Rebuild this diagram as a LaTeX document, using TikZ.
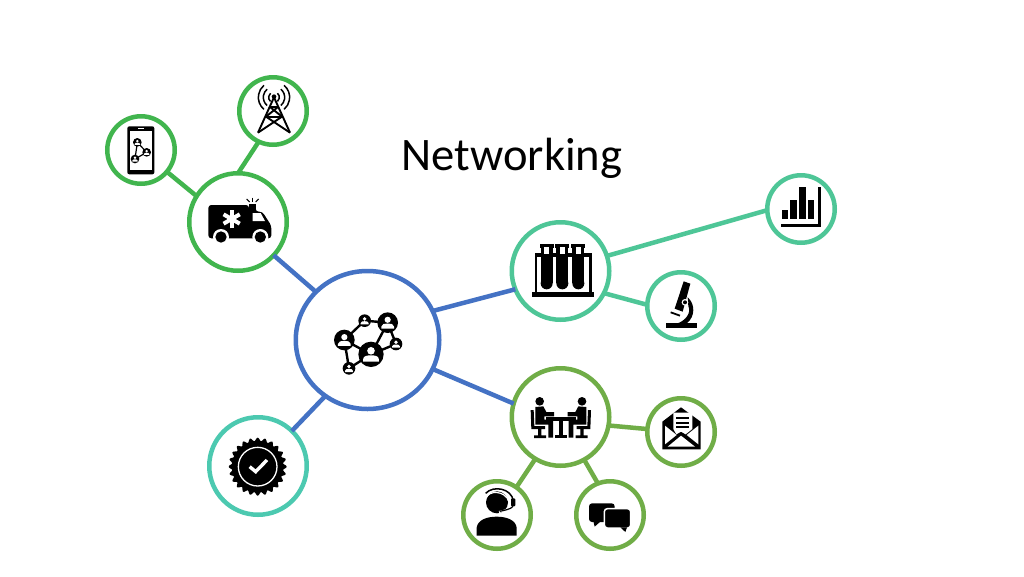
\documentclass[tikz,border=0pt]{standalone}
\usepackage{fontspec}
\setmainfont{Carlito}
\usetikzlibrary{shapes.geometric}
\definecolor{gA}{HTML}{41B54E}
\definecolor{bA}{HTML}{4472C4}
\definecolor{tA}{HTML}{4EC697}
\definecolor{oA}{HTML}{70AD47}
\definecolor{cA}{HTML}{4CC9B0}
\tikzset{
  ring/.style={circle,draw=#1,line width=4.5pt,fill=white,inner sep=0pt,outer sep=0pt},
  big/.style={minimum size=97.5pt},
  small/.style={minimum size=67.5pt},
  link/.style={draw=#1,line width=4.5pt},
  zoomed/.style={x=0.33333pt,y=-0.33333pt},
}
\newcommand{\persona}[3]{%
  \begin{scope}[shift={(#1,#2)},scale=#3]
    \fill[black] (0,0) circle (1);
    \fill[white] (0,-.28) circle (.3);
    \fill[white] (-.62,.58) -- (-.62,.38) .. controls (-.6,.12) and (-.3,.08) .. (0,.08)
      .. controls (.3,.08) and (.6,.12) .. (.62,.38) -- (.62,.58) -- cycle;
  \end{scope}}
\newcommand{\seated}{%
  \fill (254,109) circle (13);
  \fill (241,126) -- (265,124) -- (274,141) -- (297,141) -- (297,154) -- (268,154) -- (268,164)
     -- (294,164) -- (294,218) -- (280,218) -- (280,179) -- (241,179) -- cycle;
  \fill (227,135) -- (236,135) -- (238,183) -- (270,183) -- (270,192) -- (259,192) -- (259,211)
     -- (273,211) -- (273,219) -- (237,219) -- (237,211) -- (249,211) -- (249,192) -- (229,192) -- cycle;
}
\begin{document}
\begin{tikzpicture}[x=1pt,y=-1pt]
\useasboundingbox (0,0) rectangle (1024,576);
\fill[white] (0,0) rectangle (1024,576);

\node[text=black,inner sep=0pt] (title) at (512,158) {\fontsize{46.6}{50}\selectfont Networking};

\node[ellipse,draw=bA,line width=4.5pt,fill=white,inner sep=0pt,outer sep=0pt,minimum width=143.5pt,minimum height=138pt] (hub) at (367.5,340) {};
\node[ring=gA,big] (amb) at (238,222) {};
\node[ring=gA,small] (phone) at (141,150) {};
\node[ring=gA,small] (tower) at (273,111) {};
\node[ring=tA,big] (tubes) at (560.5,271) {};
\node[ring=tA,small] (chart) at (801,209) {};
\node[ring=tA,small] (micro) at (681,306) {};
\node[ring=oA,big] (meet) at (560.5,417) {};
\node[ring=oA,small] (mail) at (681,432) {};
\node[ring=oA,small] (head) at (497,515) {};
\node[ring=oA,small] (chat) at (610,515) {};
\node[ring=cA,big] (badge) at (258,466) {};

\draw[link=gA] (amb.148) -- (phone.-40);
\draw[link=gA] (amb.90) -- (tower.245);
\draw[link=bA] (amb.-43) -- (hub.137);
\draw[link=bA] (hub.233) -- (badge.46);
\draw[link=bA] (hub.24) -- (tubes.202);
\draw[link=bA] (hub.-24) -- (meet.164);
\draw[link=tA] (tubes.18) -- (chart.182);
\draw[link=tA] (tubes.-27) -- (micro.178);
\draw[link=oA] (meet.-10) -- (mail.175);
\draw[link=oA] (meet.239) -- (head.55);
\draw[link=oA] (meet.-61) -- (chat.111);

% ---- ambulance, phone, tower
\begin{scope}[shift={(95,65)},zoomed]
  \fill[rounded corners=3pt] (340,420) -- (462,420) -- (462,432) -- (482,432) -- (482,416) -- (482,440) -- (502,440)
     -- (529,482) -- (529,520) -- (340,520) -- cycle;
  \fill (463,417) rectangle (482,435);
  \fill[white] (473,444) -- (497,444) -- (510,468) -- (473,468) -- cycle;
  \foreach \a in {0,60,120} {
    \draw[white,line width=4pt] ({410+28*cos(\a+90)},{462+28*sin(\a+90)}) -- ({410-28*cos(\a+90)},{462-28*sin(\a+90)});
  }
  \fill[white] (378,516) circle (24); \fill (378,516) circle (17);
  \fill[white] (496,516) circle (24); \fill (496,516) circle (17);
  \draw[line width=1pt] (472,398) -- (472,411);
  \draw[line width=1pt] (455,402) -- (464,411);
  \draw[line width=1pt] (491,402) -- (482,411);
  \fill[rounded corners=2pt] (97,184) rectangle (178,328);
  \fill[white] (105,197) rectangle (171,315);
  \fill[white] (130,189) rectangle (146,192);
  \draw[line width=1.2pt] (127,232) -- (155,262) -- (120,282) -- cycle;
  \persona{127}{232}{13}
  \persona{155}{262}{13}
  \persona{120}{282}{13}
  \begin{scope}[line width=1.9pt]
    \draw (537,97) -- (489,203);
    \draw (537,97) -- (585,203);
    \draw (525,126) -- (549,126);
    \draw (513,155) -- (561,155);
    \draw (525,126) -- (561,155);
    \draw (549,126) -- (513,155);
    \draw (513,155) -- (585,203);
    \draw (561,155) -- (489,203);
    \foreach \r in {16,32,47} {
      \draw[line width=1.5pt] ({537+\r*cos(-50)},{97+\r*sin(-50)}) arc[start angle=-50,end angle=50,radius=\r];
      \draw[line width=1.5pt] ({537+\r*cos(130)},{97+\r*sin(130)}) arc[start angle=130,end angle=230,radius=\r];
    }
  \end{scope}
  \fill (537,95) circle (7);
\end{scope}

% ---- network icon
\begin{scope}[shift={(290,265)},zoomed]
  \draw[line width=2.4pt] (163,225) -- (224,167) -- (293,173) -- (243,268) -- (318,237) -- (293,173);
  \draw[line width=2.4pt] (163,225) -- (243,268) -- (177,310) -- cycle;
  \persona{163}{225}{31}
  \persona{293}{173}{31}
  \persona{243}{268}{38}
  \persona{224}{167}{19}
  \persona{318}{237}{19}
  \persona{177}{310}{19}
\end{scope}

% ---- tubes, chart, microscope
\begin{scope}[shift={(505,170)},zoomed]
  \fill (80,367) rectangle (268,380);
  \fill (89,248) rectangle (97,367);
  \fill (252,248) rectangle (260,367);
  \fill (89,250) rectangle (260,262);
  \foreach \x in {125,172,220} {
    \fill (\x-21,222) rectangle (\x+21,233);
    \fill (\x-18,232) rectangle (\x+18,340);
    \fill (\x,340) circle (18);
    \fill[white] (\x-8,232) rectangle (\x+8,252);
  }
  \fill (830,120) rectangle (849,148);
  \fill (855,90) rectangle (875,148);
  \fill (882,52) rectangle (902,148);
  \fill (908,90) rectangle (927,148);
  \fill (938,52) rectangle (947,172);
  \fill (828,162) rectangle (947,172);
  \fill (482,460) rectangle (575,473);
  \fill (548,382) .. controls (570,400) and (572,440) .. (545,460) -- (518,460)
     .. controls (540,452) and (560,430) .. (550,408) -- cycle;
  \fill (536,334) -- (556,341) -- (533,425) -- (509,416) -- cycle;
  \fill[white] (540,397) circle (10);
  \fill (540,397) circle (6);
  \draw[line width=1.8pt] (497,427) -- (525,437);
\end{scope}

% ---- meeting, mail, headset, chat
\begin{scope}[shift={(455,365)},zoomed]
  \fill (273,156) rectangle (362,167);
  \fill (312,167) rectangle (323,212);
  \fill (299,210) rectangle (336,219);
  \seated
  \begin{scope}[shift={(635,0)},xscale=-1]
    \seated
  \end{scope}
  \fill (622,170) -- (678,127) -- (737,170) -- (737,253) -- (622,253) -- cycle;
  \fill[white] (655,143) -- (712,143) -- (712,192) -- (692,208) -- (678,200) -- (664,208) -- (655,192) -- cycle;
  \fill (663,157) rectangle (702,163);
  \fill (663,170) rectangle (702,176);
  \fill (663,183) rectangle (702,189);
  \fill[white] (630,182) -- (630,238) -- (665,210) -- cycle;
  \fill[white] (730,182) -- (730,238) -- (695,210) -- cycle;
  \fill[white] (638,245) -- (678,212) -- (720,245) -- cycle;
  \fill (65,512) -- (65,488) .. controls (68,465) and (95,455) .. (125,455)
     .. controls (155,455) and (182,465) .. (185,488) -- (185,512) -- cycle;
  \fill (126,412) circle (33);
  \draw[white,line width=1.2pt] (93,400) .. controls (100,375) and (150,375) .. (162,410);
  \draw[line width=1.5pt] (92,385) .. controls (115,360) and (170,370) .. (175,408);
  \fill[rounded corners=1pt] (168,400) rectangle (181,424);
  \draw[white,line width=2pt] (170,425) .. controls (165,433) and (150,437) .. (132,441);
  \draw[line width=1.2pt] (174,424) .. controls (168,432) and (150,436) .. (134,439);
  \fill[rounded corners=3pt] (402,415) rectangle (479,471);
  \fill (415,468) -- (438,468) -- (419,485) -- cycle;
  \draw[white,line width=1.5pt,fill=black,rounded corners=3pt] (448,431) rectangle (527,489);
  \fill (496,487) -- (516,487) -- (511,501) -- cycle;
\end{scope}

% ---- badge
\begin{scope}[shift={(205,410)},zoomed]
  \fill plot[domain=0:360,samples=240,variable=\t] ({158+(82+5*cos(24*\t))*cos(\t)},{170+(82+5*cos(24*\t))*sin(\t)}) -- cycle;
  \draw[white,line width=1.3pt] (158,170) circle (58);
  \draw[white,line width=3.4pt] (134,170) -- (152,185) -- (186,150);
\end{scope}
\end{tikzpicture}
\end{document}
